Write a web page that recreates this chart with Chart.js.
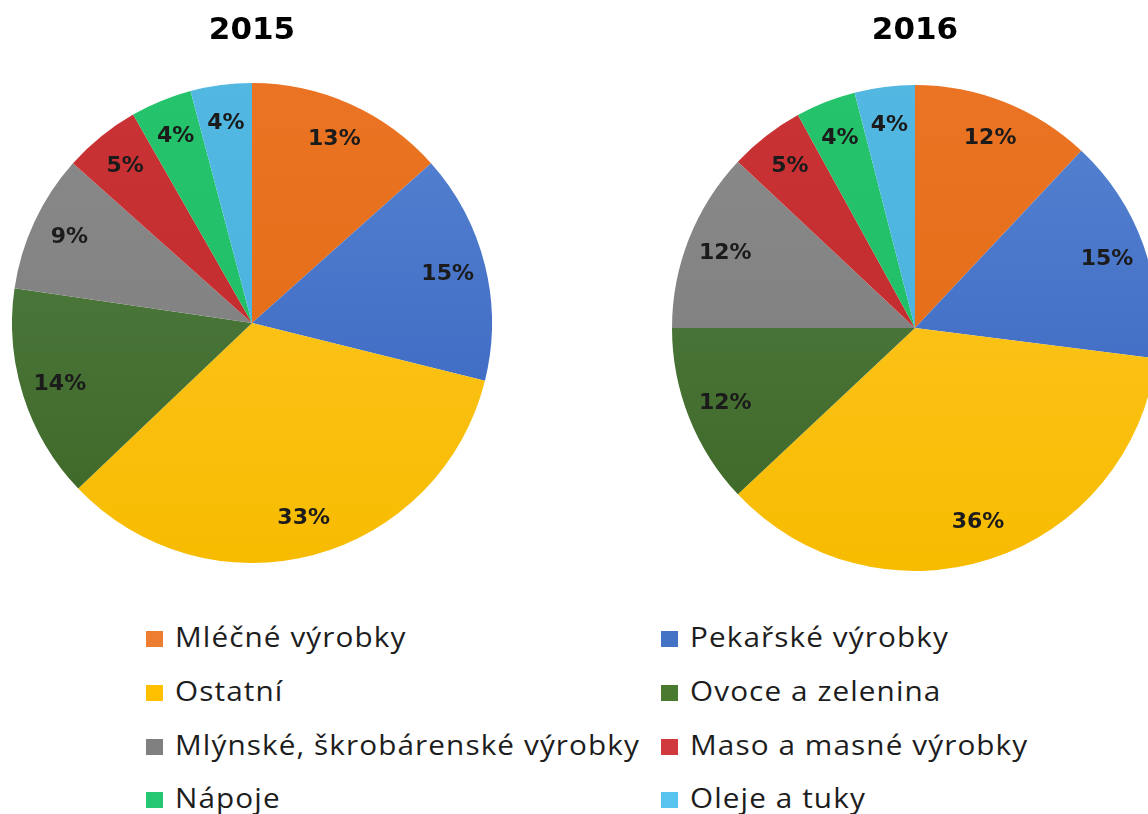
<!DOCTYPE html>
<html>
<head>
<meta charset="utf-8">
<script src="https://cdn.jsdelivr.net/npm/chart.js@4/dist/chart.umd.min.js"></script>
<style>
  html, body { margin: 0; padding: 0; background: #ffffff; width: 1148px; height: 814px; overflow: hidden; position: relative; }
  canvas { position: absolute; }
  #c2015 { left: 12px; top: 0px; }
  #c2016 { left: 672px; top: 0px; }
  .lg { position: absolute; font-family: "Open Sans", sans-serif; font-size: 27px; line-height: 30px; color: #1d1d1d; white-space: nowrap; letter-spacing: 1px; transform: scaleX(1.1); transform-origin: 0 50%; }
  .sw { position: absolute; width: 17px; height: 16px; }
</style>
</head>
<body>
<canvas id="c2015" width="480" height="563"></canvas>
<canvas id="c2016" width="486" height="571"></canvas>
<div id="legend"></div>
<script>
// ---- data ----
const categories = [
  'Mléčné výrobky',
  'Pekařské výrobky',
  'Ostatní',
  'Ovoce a zelenina',
  'Mlýnské, škrobárenské výrobky',
  'Maso a masné výrobky',
  'Nápoje',
  'Oleje a tuky'
];
const values2015 = [13, 15, 33, 14, 9, 5, 4, 4];
const values2016 = [12, 15, 36, 12, 12, 5, 4, 4];
const years = ['2015', '2016'];

// ---- styles ----
const topColors    = ['#EA7424', '#5683D0', '#FFC62C', '#55814A', '#8A8A8A', '#CA3335', '#25C36C', '#52B8E2'];
const bottomColors = ['#E2690F', '#3562BF', '#F7BC00', '#3C6624', '#7B7B7B', '#BF282B', '#1EBC62', '#46B0DE'];
const legendColors = ['#ED7D31', '#4472C4', '#FFC000', '#4A7A30', '#808080', '#D03A3E', '#25C772', '#56C4EE'];

function gradFill(ctx) {
  const i = ctx.dataIndex;
  const chart = ctx.chart;
  const a = chart.chartArea;
  if (!a || i === undefined) return bottomColors[i || 0];
  const g = chart.ctx.createLinearGradient(0, a.top, 0, a.bottom);
  g.addColorStop(0, topColors[i]);
  g.addColorStop(1, bottomColors[i]);
  return g;
}

const pctLabels = {
  id: 'pctLabels',
  afterDatasetsDraw(chart) {
    const ctx = chart.ctx;
    const meta = chart.getDatasetMeta(0);
    const data = chart.data.datasets[0].data;
    ctx.save();
    ctx.font = 'bold 22px "DejaVu Sans"';
    ctx.fillStyle = '#1b1b1b';
    ctx.textAlign = 'center';
    ctx.textBaseline = 'middle';
    meta.data.forEach((arc, i) => {
      const p = arc.getProps(['x', 'y', 'startAngle', 'endAngle', 'outerRadius'], true);
      const mid = (p.startAngle + p.endAngle) / 2;
      const r = p.outerRadius * 0.84;
      ctx.fillText(data[i] + '%', p.x + Math.cos(mid) * r, p.y + Math.sin(mid) * r);
    });
    ctx.restore();
  }
};

function makePie(id, year, values, padBottom) {
  return new Chart(document.getElementById(id), {
    type: 'pie',
    data: {
      labels: categories,
      datasets: [{
        data: values,
        backgroundColor: gradFill,
        borderWidth: 0
      }]
    },
    options: {
      responsive: false,
      animation: false,
      layout: { padding: 0 },
      plugins: {
        legend: { display: false },
        tooltip: { enabled: false },
        title: {
          display: true,
          text: year,
          color: '#000000',
          font: { family: '"DejaVu Sans"', size: 31, weight: 'bold', lineHeight: 1.2 },
          padding: { top: 12, bottom: padBottom }
        }
      }
    },
    plugins: [pctLabels]
  });
}

makePie('c2015', years[0], values2015, 33.8);
makePie('c2016', years[1], values2016, 35.8);

// ---- legend (two columns) ----
const legend = document.getElementById('legend');
const colX = [146, 661];
const textX = [175, 690];
const baselines = [647, 701, 755, 808];
categories.forEach((name, i) => {
  const col = i % 2, row = Math.floor(i / 2);
  const sw = document.createElement('div');
  sw.className = 'sw';
  sw.style.left = colX[col] + 'px';
  sw.style.top = (baselines[row] - 16) + 'px';
  sw.style.background = legendColors[i];
  legend.appendChild(sw);
  const t = document.createElement('div');
  t.className = 'lg';
  t.style.left = textX[col] + 'px';
  t.style.top = (baselines[row] - 25.5) + 'px';
  t.textContent = name;
  legend.appendChild(t);
});
</script>
</body>
</html>
